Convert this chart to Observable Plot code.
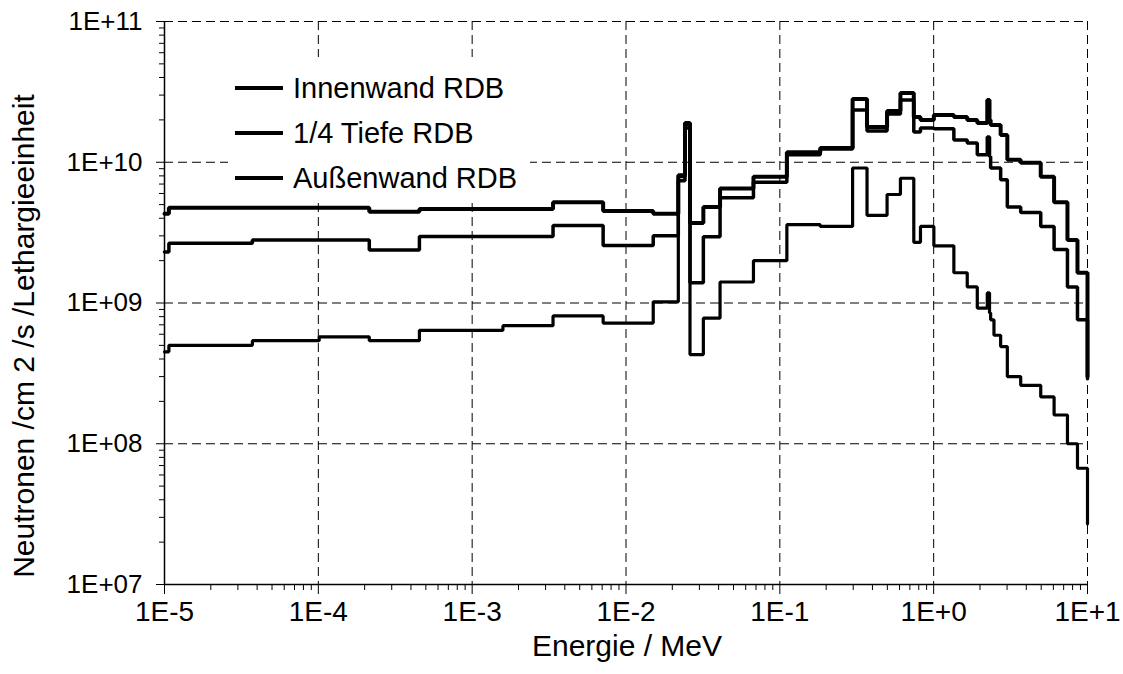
<!DOCTYPE html>
<html>
<head>
<meta charset="utf-8">
<script src="https://cdn.jsdelivr.net/npm/d3@7"></script>
<script src="https://cdn.jsdelivr.net/npm/@observablehq/plot@0.6"></script>
<style>
  html, body { margin: 0; padding: 0; background: #fff; }
  #wrap { position: relative; width: 1123px; height: 674px; font-family: "Liberation Sans", Arial, sans-serif; color: #000; }
  #wrap svg { display: block; }
  .title { position: absolute; white-space: nowrap; font-size: 30px; line-height: 1; }
  #legend { position: absolute; left: 228px; top: 57px; width: 302px; height: 143px; background: #fff; }
  .item { position: absolute; left: 0; height: 30px; display: flex; align-items: center; }
  .swatch { width: 48px; margin-left: 7px; margin-right: 10px; background: #000; }
  .item span { font-size: 29px; line-height: 1; white-space: nowrap; }
</style>
</head>
<body>
<div id="wrap">
  <div id="chart"></div>
  <div id="legend"></div>
  <div class="title" id="ytitle" style="left:24px; top:336px; transform: translate(-50%, -50%) rotate(-90deg);">Neutronen /cm 2 /s /Lethargieeinheit</div>
  <div class="title" id="xtitle" style="left:627px; top:646px; transform: translate(-50%, -50%);">Energie / MeV</div>
</div>
<script>
// Lower edges of the energy groups (MeV); the first starts at the axis, the last is the drop at 10 MeV
const energyLower = [
  1e-5, 1.068e-5, 3.727e-5, 1.013e-4, 2.144e-4, 4.540e-4, 1.585e-3, 3.355e-3, 7.102e-3, 1.503e-2,
  2.188e-2, 2.418e-2, 2.606e-2, 3.183e-2, 4.087e-2, 6.738e-2, 0.1111, 0.1832, 0.2972, 0.3688,
  0.4979, 0.6081, 0.7427, 0.8208, 1.003, 1.353, 1.653, 1.921, 2.231, 2.307,
  2.346, 2.365, 2.466, 2.725, 3.012, 3.679, 4.966, 6.065, 7.408, 8.607,
  10.0
];

// Group flux per unit lethargy (n/cm²/s)
const innenwand = [
  4.3e9, 4.75e9, 4.75e9, 4.75e9, 4.45e9, 4.65e9, 4.65e9, 5.2e9, 4.5e9, 4.3e9,
  8.1e9, 1.9e10, 3.7e9, 4.8e9, 6.5e9, 7.9e9, 1.18e10, 1.26e10, 2.82e10, 1.78e10,
  2.31e10, 3.1e10, 2.1e10, 2.0e10, 2.17e10, 2.1e10, 2.0e10, 1.9e10, 2.77e10, 2.0e10,
  1.84e10, 1.84e10, 1.84e10, 1.56e10, 1.04e10, 9.9e9, 7.9e9, 5.2e9, 2.8e9, 1.64e9,
  3.0e8
];
const viertelTiefe = [
  2.3e9, 2.66e9, 2.8e9, 2.8e9, 2.38e9, 2.97e9, 2.97e9, 3.55e9, 2.56e9, 3.0e9,
  7.4e9, 1.75e10, 1.39e9, 2.95e9, 5.6e9, 7.2e9, 1.13e10, 1.24e10, 2.35e10, 1.67e10,
  2.2e10, 2.77e10, 1.64e10, 1.75e10, 1.73e10, 1.44e10, 1.37e10, 1.13e10, 1.51e10, 1.1e10,
  9.1e9, 9.1e9, 9.1e9, 7.5e9, 4.8e9, 4.4e9, 3.5e9, 2.4e9, 1.3e9, 7.6e8,
  2.9e8
];
const aussenwand = [
  4.5e8, 5.0e8, 5.4e8, 5.75e8, 5.4e8, 6.4e8, 6.9e8, 8.1e8, 7.2e8, 1.02e9,
  7.9e9, 1.85e10, 4.3e8, 7.8e8, 1.41e9, 2.0e9, 3.6e9, 3.5e9, 9.1e9, 4.2e9,
  5.9e9, 7.7e9, 2.7e9, 3.5e9, 2.55e9, 1.64e9, 1.3e9, 9.2e8, 1.18e9, 8.5e8,
  7.6e8, 7.6e8, 5.9e8, 4.9e8, 3.0e8, 2.6e8, 2.15e8, 1.6e8, 1.0e8, 6.7e7,
  2.7e7
];

const seriesNames = ["Innenwand RDB", "1/4 Tiefe RDB", "Außenwand RDB"];
const seriesValues = [innenwand, viertelTiefe, aussenwand];
const seriesWidths = [4, 3.5, 3.2];

// Axis ticks and their labels
const xTicks = [1e-5, 1e-4, 1e-3, 1e-2, 1e-1, 1e0, 1e1];
const xTickLabels = ["1E-5", "1E-4", "1E-3", "1E-2", "1E-1", "1E+0", "1E+1"];
const yTicks = [1e7, 1e8, 1e9, 1e10, 1e11];
const yTickLabels = ["1E+07", "1E+08", "1E+09", "1E+10", "1E+11"];

const minor = (majors) => majors.slice(0, -1).flatMap(d => [2,3,4,5,6,7,8,9].map(k => d * k));
const xMinor = minor(xTicks);
const yMinor = minor(yTicks);

// Label lookup by decade exponent
const labelFor = (ticks, labels) => (d) => {
  const e = Math.round(Math.log10(d));
  const i = ticks.findIndex(t => Math.round(Math.log10(t)) === e);
  return i >= 0 ? labels[i] : "";
};

const rows = (values) => energyLower.map((e, i) => ({energy: e, flux: values[i]}));

const plot = Plot.plot({
  width: 1123,
  height: 674,
  marginLeft: 164,
  marginRight: 36,
  marginTop: 21,
  marginBottom: 90,
  x: {type: "log", domain: [1e-5, 10], label: null},
  y: {type: "log", domain: [1e7, 1e11], label: null},
  style: {background: "#fff", color: "#000", fontFamily: "Liberation Sans, Arial, sans-serif", fontSize: "26px"},
  marks: [
    Plot.gridX(xTicks, {stroke: "#000", strokeOpacity: 1, strokeWidth: 1, strokeDasharray: "9,5"}),
    Plot.gridY(yTicks, {stroke: "#000", strokeOpacity: 1, strokeWidth: 1, strokeDasharray: "9,5"}),
    Plot.axisX(xMinor, {tickSize: 6, tickFormat: () => "", label: null}),
    Plot.axisY(yMinor, {tickSize: 5, tickFormat: () => "", label: null}),
    Plot.axisX(xTicks, {tickSize: 10, tickPadding: 7, tickFormat: labelFor(xTicks, xTickLabels), label: null, fontSize: 28}),
    Plot.axisY(yTicks, {tickSize: 8, tickPadding: 14, tickFormat: labelFor(yTicks, yTickLabels), label: null, fontSize: 26}),
    Plot.ruleX([1e-5], {stroke: "#000", strokeWidth: 1.5}),
    Plot.ruleY([1e7], {stroke: "#000", strokeWidth: 1.5}),
    ...seriesValues.map((vals, k) =>
      Plot.line(rows(vals), {x: "energy", y: "flux", curve: "step-after", stroke: "#000", strokeWidth: seriesWidths[k], strokeLinejoin: "miter"})
    )
  ]
});
document.getElementById("chart").appendChild(plot);

// Legend box in the upper left of the plot area
const legend = document.getElementById("legend");
seriesNames.forEach((name, k) => {
  const item = document.createElement("div");
  item.className = "item";
  item.style.top = (16 + k * 45) + "px";
  const sw = document.createElement("div");
  sw.className = "swatch";
  sw.style.height = seriesWidths[k] + "px";
  const label = document.createElement("span");
  label.textContent = name;
  item.appendChild(sw);
  item.appendChild(label);
  legend.appendChild(item);
});
</script>
</body>
</html>
